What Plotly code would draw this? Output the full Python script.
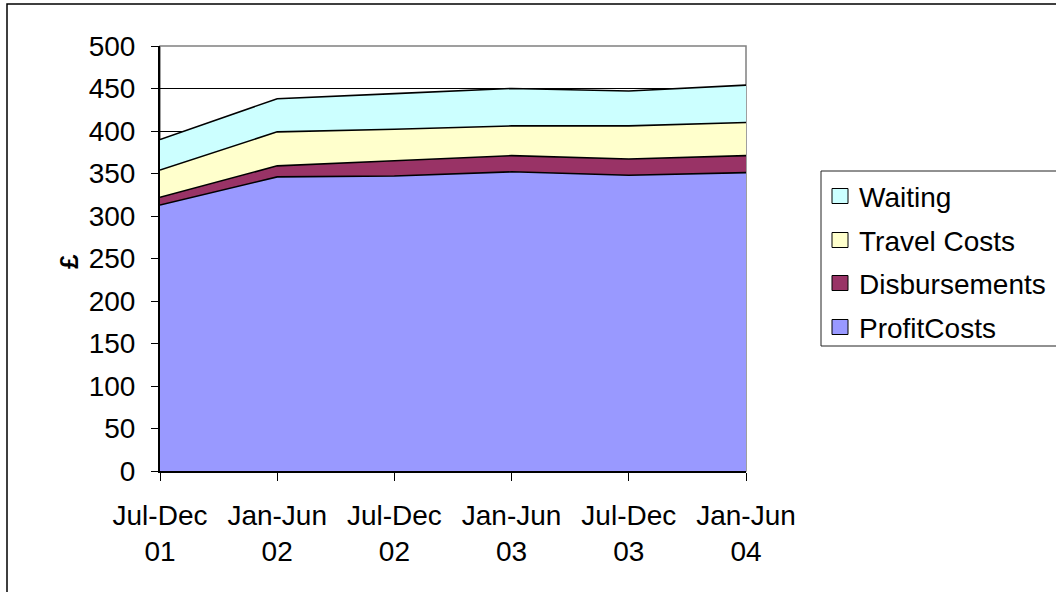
import plotly.graph_objects as go

# Half-year periods and stacked cost components (£)
periods = ["Jul-Dec<br>01", "Jan-Jun<br>02", "Jul-Dec<br>02", "Jan-Jun<br>03", "Jul-Dec<br>03", "Jan-Jun<br>04"]
profit_costs = [313, 346, 347, 352, 348, 351]
disbursements = [9, 13, 18, 19, 19, 20]
travel_costs = [32, 40, 37, 35, 39, 39]
waiting = [36, 39, 42, 44, 41, 44]

series = [
    ("ProfitCosts", profit_costs, "#9999FF"),
    ("Disbursements", disbursements, "#993366"),
    ("Travel Costs", travel_costs, "#FFFFCC"),
    ("Waiting", waiting, "#CCFFFF"),
]

W, H = 1056, 592
L, R, T, B = 160, 310, 46, 121
FONT = "Liberation Sans, Arial, sans-serif"
FS = 28


def px_x(x):
    return (x - L) / (W - L - R)


def px_y(y):
    return (H - B - y) / (H - T - B)


xs = list(range(len(periods)))
fig = go.Figure()
for name, vals, color in series:
    fig.add_trace(go.Scatter(
        x=xs, y=vals, name=name, mode="lines", stackgroup="costs",
        fillcolor=color, line=dict(color="black", width=1.6),
        showlegend=False,
    ))

shapes = [
    # plot frame (grey top/right edge)
    dict(type="rect", xref="paper", yref="paper", x0=0, x1=1, y0=0, y1=1,
         line=dict(color="#808080", width=1.5), layer="between"),
    # outer chart border
    dict(type="rect", xref="paper", yref="paper",
         x0=px_x(7), x1=px_x(1070), y0=px_y(4), y1=px_y(600),
         line=dict(color="black", width=1.5), layer="above"),
    # legend box
    dict(type="rect", xref="paper", yref="paper",
         x0=px_x(821), x1=px_x(1070), y0=px_y(171), y1=px_y(346),
         line=dict(color="#222222", width=1), layer="above"),
]
annotations = [
    dict(text="<b>£</b>", xref="paper", yref="paper", x=px_x(52), y=px_y(262),
         showarrow=False, textangle=-90, font=dict(family=FONT, size=26, color="black")),
]

# legend entries, top to bottom
legend_rows = [("Waiting", "#CCFFFF", 196), ("Travel Costs", "#FFFFCC", 240),
               ("Disbursements", "#993366", 283), ("ProfitCosts", "#9999FF", 327)]
for name, color, cy in legend_rows:
    shapes.append(dict(type="rect", xref="paper", yref="paper",
                       x0=px_x(832), x1=px_x(848), y0=px_y(cy - 7.5), y1=px_y(cy + 7.5),
                       fillcolor=color, line=dict(color="black", width=1), layer="above"))
    annotations.append(dict(text=name, xref="paper", yref="paper", x=px_x(857), y=px_y(cy + 1),
                            xanchor="left", yanchor="middle", showarrow=False,
                            font=dict(family=FONT, size=FS, color="black")))

fig.update_layout(
    width=W, height=H,
    margin=dict(l=L, r=R, t=T, b=B),
    paper_bgcolor="white", plot_bgcolor="white",
    font=dict(family=FONT, size=FS, color="black"),
    shapes=shapes, annotations=annotations,
    xaxis=dict(
        range=[0, len(periods) - 1], tickvals=xs, ticktext=periods,
        showgrid=False, zeroline=False, showline=True, linecolor="black", linewidth=2,
        ticks="outside", ticklen=8, tickcolor="black", tickwidth=1,
        tickfont=dict(family=FONT, size=FS), ticklabelstandoff=10,
    ),
    yaxis=dict(
        range=[0, 500], tickvals=list(range(0, 501, 50)),
        showgrid=True, gridcolor="black", gridwidth=1, zeroline=False,
        showline=True, linecolor="black", linewidth=2,
        ticks="outside", ticklen=7, tickcolor="black", tickwidth=1,
        tickfont=dict(family=FONT, size=FS), ticklabelstandoff=10,
    ),
)

fig.write_html("out.html")
